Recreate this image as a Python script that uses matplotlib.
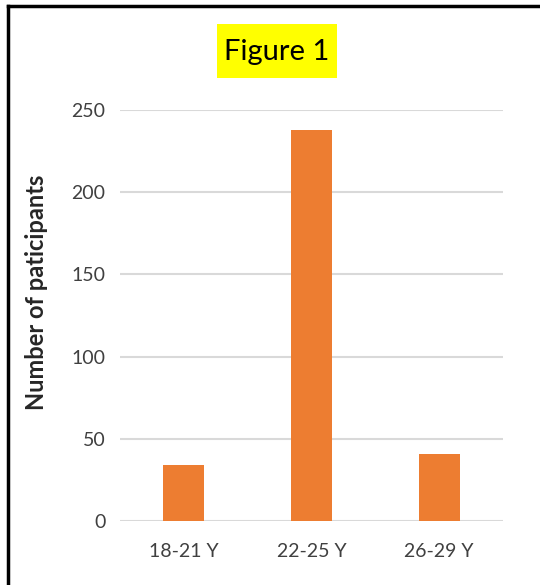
import matplotlib.pyplot as plt
from matplotlib.patches import Rectangle
from matplotlib.lines import Line2D

# age groups and number of participants in each
age_groups = ["18-21 Y", "22-25 Y", "26-29 Y"]
participants = [34, 238, 41]
y_ticks = [0, 50, 100, 150, 200, 250]

plt.rcParams['font.family'] = ['Lato', 'DejaVu Sans']

fig = plt.figure(figsize=(5.4, 5.85), dpi=100)
W, H = 540, 585

# plot area in pixel terms
left, right, top, bottom = 120, 503, 110, 521
ax = fig.add_axes([left / W, 1 - bottom / H, (right - left) / W, (bottom - top) / H])

x = range(len(age_groups))
ax.bar(x, participants, width=0.32, color="#ED7D31", zorder=3)
ax.set_xlim(-0.5, 2.5)
ax.set_ylim(0, 250)
ax.set_yticks(y_ticks)
ax.set_xticks(list(x))
ax.set_xticklabels(age_groups)
ax.grid(axis="y", color="#d9d9d9", linewidth=1.5, zorder=0)
ax.set_axisbelow(True)
for s in ax.spines.values():
    s.set_visible(False)
ax.tick_params(axis="x", length=0, labelsize=14, colors="#404040", pad=16)
ax.tick_params(axis="y", length=0, labelsize=14, colors="#404040", pad=10.5)
ax.set_ylabel("Number of paticipants", fontsize=17, fontweight="bold",
              color="#262626", va="center")
ax.yaxis.set_label_coords(-0.219, 0.557)

# title on a yellow patch
fig.patches.append(Rectangle((217 / W, 1 - 78 / H), 120 / W, 54 / H,
                             transform=fig.transFigure, facecolor="#FFFF00",
                             edgecolor="none"))
fig.text(277 / W, 1 - 52 / H, "Figure 1", fontsize=21, ha="center",
         va="center", color="black")

# outer frame: top and left edges
fig.lines.append(Line2D([8 / W, 1], [1 - 6 / H, 1 - 6 / H],
                        transform=fig.transFigure, color="black", linewidth=2.5))
fig.lines.append(Line2D([8 / W, 8 / W], [0, 1 - 6 / H],
                        transform=fig.transFigure, color="black", linewidth=2.5))

fig.savefig("out.png", dpi=100)
